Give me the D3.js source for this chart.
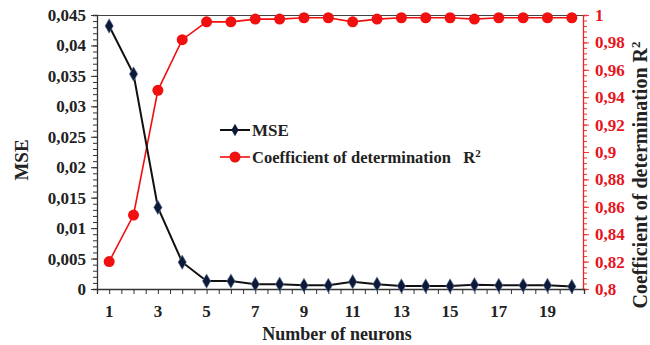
<!DOCTYPE html>
<html><head><meta charset="utf-8">
<script src="https://cdn.jsdelivr.net/npm/d3@7"></script>
<style>body{margin:0;background:#fff}svg{display:block}svg text{font-family:"Liberation Serif","Times New Roman","Tinos","DejaVu Serif",serif !important;font-weight:bold}</style>
</head><body>
<svg id="c" width="650" height="345"></svg>
<script>
const neurons = [1,2,3,4,5,6,7,8,9,10,11,12,13,14,15,16,17,18,19,20];
const mse = [0.0432,0.0353,0.0134,0.0044,0.0013,0.0013,0.0008,0.0008,0.0006,0.0006,0.0012,0.0008,0.0005,0.0005,0.0005,0.0007,0.0006,0.0006,0.0006,0.0004];
const r2 = [0.820,0.854,0.945,0.982,0.995,0.995,0.997,0.997,0.998,0.998,0.995,0.997,0.998,0.998,0.998,0.997,0.998,0.998,0.998,0.998];
const mseTicks = [0,0.005,0.01,0.015,0.02,0.025,0.03,0.035,0.04,0.045];
const r2Ticks = [0.8,0.82,0.84,0.86,0.88,0.9,0.92,0.94,0.96,0.98,1];
const xLabels = [1,3,5,7,9,11,13,15,17,19];

const svg = d3.select("#c");
const L=97,R=584,T=15,B=289;
const x = d3.scaleBand().domain(neurons).range([L,R]);
const cx = d => x(d)+x.bandwidth()/2;
const yL = d3.scaleLinear().domain([0,0.045]).range([B,T]);
const yR = d3.scaleLinear().domain([0.8,1]).range([B,T]);
const fmt = v => String(v).replace(".",",");

// top border
svg.append("line").attr("x1",L).attr("x2",R).attr("y1",T+0.5).attr("y2",T+0.5).attr("stroke","#444").attr("stroke-width",1.2);

// left axis
const gl = svg.append("g").attr("transform",`translate(${L},0)`);
gl.call(d3.axisLeft(yL).tickValues(d3.range(0,0.0451,0.001)).tickSize(4).tickFormat(""));
gl.call(g=>g.selectAll(".tick line").attr("stroke","#333"));
gl.select(".domain").attr("stroke","#333").attr("stroke-width",1.3);
const gl2 = svg.append("g").attr("transform",`translate(${L},0)`);
gl2.call(d3.axisLeft(yL).tickValues(mseTicks).tickSize(6).tickPadding(5).tickFormat(fmt));
gl2.select(".domain").remove();
gl2.selectAll(".tick line").attr("stroke","#333");
gl2.selectAll("text").attr("font-size",17).attr("fill","#222");

// right axis
const gr = svg.append("g").attr("transform",`translate(${R-1},0)`);
gr.call(d3.axisRight(yR).tickValues(d3.range(0.8,1.0001,0.004)).tickSize(4).tickFormat(""));
gr.selectAll(".tick line").attr("stroke","#e33");
gr.select(".domain").attr("stroke","#e22").attr("stroke-width",1.3);
const gr2 = svg.append("g").attr("transform",`translate(${R-1},0)`);
gr2.call(d3.axisRight(yR).tickValues(r2Ticks).tickSize(6).tickPadding(6).tickFormat(fmt));
gr2.select(".domain").remove();
gr2.selectAll(".tick line").attr("stroke","#e33");
gr2.selectAll("text").attr("font-size",17).attr("fill","#e8141c");

// x axis
const gx = svg.append("g").attr("transform",`translate(0,${B})`);
const halfTicks = [];
neurons.forEach(n=>{halfTicks.push(x(n)); halfTicks.push(cx(n));});
const xs = d3.scaleLinear().domain([L,R]).range([L,R]);
gx.call(d3.axisBottom(xs).tickValues(halfTicks).tickSize(5).tickFormat(""));
gx.select(".domain").attr("stroke","#333").attr("stroke-width",1.3);
gx.selectAll(".tick line").attr("stroke","#333");
const gx2 = svg.append("g").attr("transform",`translate(0,${B})`);
gx2.call(d3.axisBottom(x).tickValues(xLabels).tickSize(0).tickPadding(16));
gx2.select(".domain").remove();
gx2.selectAll("text").attr("font-size",17).attr("fill","#222");

// titles
svg.append("text").attr("x",337).attr("y",340).attr("text-anchor","middle").attr("font-size",18).attr("fill","#222").text("Number of neurons");
svg.append("text").attr("transform","translate(28,160) rotate(-90)").attr("text-anchor","middle").attr("font-size",19).attr("fill","#222").text("MSE");
svg.append("text").attr("transform","translate(647,175) rotate(-90)").attr("text-anchor","middle").attr("font-size",20).attr("fill","#222")
  .text("Coefficient of determination R").append("tspan").attr("dy",-7).attr("font-size",13).text("2");

// lines
const red="#f01010", navy="#0c1a38";
svg.append("path").datum(r2).attr("fill","none").attr("stroke",red).attr("stroke-width",1.6)
  .attr("d",d3.line().x((d,i)=>cx(neurons[i])).y(d=>yR(d)));
svg.append("path").datum(mse).attr("fill","none").attr("stroke","#111").attr("stroke-width",2)
  .attr("d",d3.line().x((d,i)=>cx(neurons[i])).y(d=>yL(d)));
svg.selectAll(".m").data(mse).join("path").attr("d",d3.symbol().type(d3.symbolDiamond).size(60))
  .attr("transform",(d,i)=>`translate(${cx(neurons[i])},${yL(d)})`).attr("fill",navy).attr("stroke","#6a7fa8").attr("stroke-width",0.6);
svg.selectAll(".r").data(r2).join("circle").attr("cx",(d,i)=>cx(neurons[i])).attr("cy",d=>yR(d)).attr("r",5.5).attr("fill",red);

// legend
const lg = svg.append("g");
lg.append("line").attr("x1",220).attr("x2",250).attr("y1",130).attr("y2",130).attr("stroke","#111").attr("stroke-width",2);
lg.append("path").attr("d",d3.symbol().type(d3.symbolDiamond).size(45)).attr("transform","translate(235,130)").attr("fill",navy);
lg.append("text").attr("x",252).attr("y",136).attr("font-size",17).attr("fill","#222").text("MSE");
lg.append("line").attr("x1",220).attr("x2",250).attr("y1",157).attr("y2",157).attr("stroke",red).attr("stroke-width",1.6);
lg.append("circle").attr("cx",235).attr("cy",157).attr("r",5.5).attr("fill",red);
lg.append("text").attr("x",252).attr("y",163).attr("font-size",16.5).attr("fill","#222").attr("xml:space","preserve")
  .text("Coefficient of determination   R").append("tspan").attr("dy",-6).attr("font-size",11).text("2");
</script>
</body></html>
